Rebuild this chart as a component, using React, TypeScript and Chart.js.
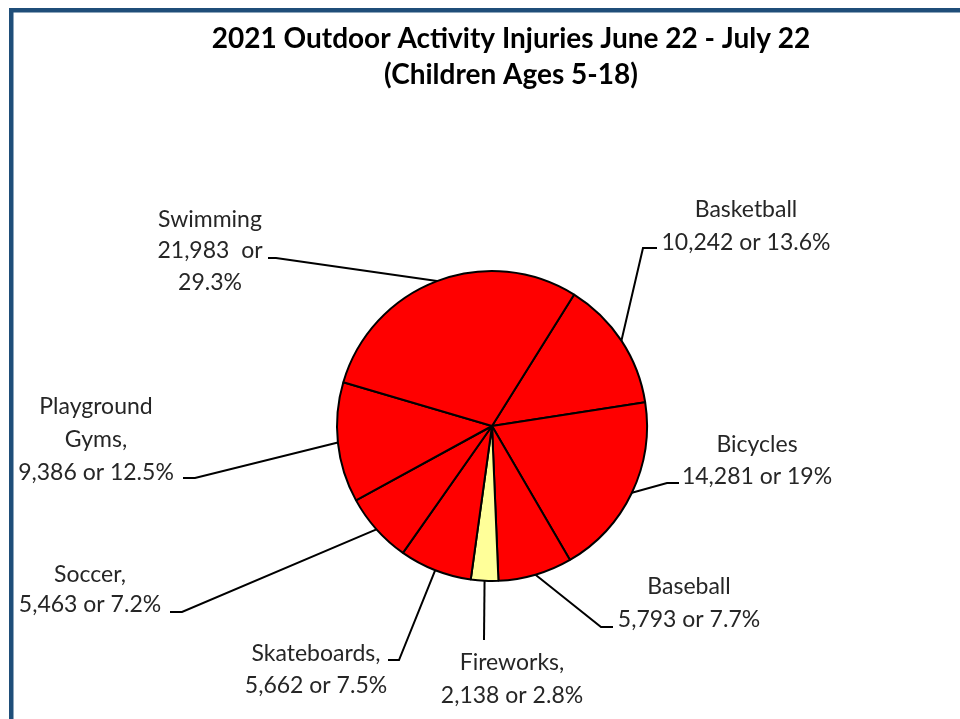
import React, { useEffect, useRef } from "react";
import { Chart, registerables } from "chart.js";

Chart.register(...registerables);

// ---- data ----
const categories = [
  "Basketball",
  "Bicycles",
  "Baseball",
  "Fireworks",
  "Skateboards",
  "Soccer",
  "Playground Gyms",
  "Swimming",
];
const injuries = [10242, 14281, 5793, 2138, 5662, 5463, 9386, 21983];
const countLabels = ["10,242", "14,281", "5,793", "2,138", "5,662", "5,463", "9,386", "21,983"];
const percentLabels = ["13.6%", "19%", "7.7%", "2.8%", "7.5%", "7.2%", "12.5%", "29.3%"];
const sliceColors = ["#FF0000", "#FF0000", "#FF0000", "#FFFF99", "#FF0000", "#FF0000", "#FF0000", "#FF0000"];
const titleLines = ["2021 Outdoor Activity Injuries June 22 - July 22", "(Children Ages 5-18)"];

// label text lines, built from the data
const labelLines: string[][] = [
  [categories[0], `${countLabels[0]} or ${percentLabels[0]}`],
  [categories[1], `${countLabels[1]} or ${percentLabels[1]}`],
  [categories[2], `${countLabels[2]} or ${percentLabels[2]}`],
  [categories[3] + ",", `${countLabels[3]} or ${percentLabels[3]}`],
  [categories[4] + ",", `${countLabels[4]} or ${percentLabels[4]}`],
  [categories[5] + ",", `${countLabels[5]} or ${percentLabels[5]}`],
  ["Playground", "Gyms,", `${countLabels[6]} or ${percentLabels[6]}`],
  [categories[7], `${countLabels[7]}  or`, percentLabels[7]],
];

// ---- layout of annotations (label placement and leader-line elbows) ----
const labelLayout = [
  { cx: 746, base: [217, 250], path: [[643, 248], [657, 248]] },
  { cx: 757, base: [452, 484], path: [[667, 483], [679, 483]] },
  { cx: 689, base: [594, 627], path: [[601, 627], [613, 627]] },
  { cx: 512, base: [670, 703], path: [[484, 640]] },
  { cx: 316, base: [661, 693], path: [[399, 660], [388, 660]] },
  { cx: 90, base: [582, 612], path: [[182, 612], [170, 612]] },
  { cx: 96, base: [414, 447, 480], path: [[195, 478], [183, 478]] },
  { cx: 210, base: [227, 258, 290], path: [[276, 258], [268, 258]] },
];

const FONT = "Lato, 'Noto Sans', sans-serif";
const CX = 492;
const CY = 426;
const R = 155;
const W = 960;
const H = 719;

const decorPlugin = {
  id: "decor",
  beforeDraw(chart: any) {
    const ctx = chart.ctx;
    ctx.save();
    ctx.fillStyle = "#FFFFFF";
    ctx.fillRect(0, 0, W, H);
    ctx.fillStyle = "#1F4E79";
    ctx.fillRect(9, 8, 4.5, H);
    ctx.fillRect(9, 8, W, 4.5);
    ctx.restore();
  },
  afterDraw(chart: any) {
    const ctx = chart.ctx;
    const meta = chart.getDatasetMeta(0);
    ctx.save();
    // title
    ctx.fillStyle = "#000000";
    ctx.textAlign = "center";
    ctx.textBaseline = "alphabetic";
    ctx.font = `bold 28px ${FONT}`;
    ctx.fillText(titleLines[0], 511, 48);
    ctx.fillText(titleLines[1], 511, 84);

    // leader lines
    ctx.strokeStyle = "#000000";
    ctx.lineWidth = 2;
    ctx.lineJoin = "miter";
    meta.data.forEach((arc: any, i: number) => {
      const p = arc.getProps(["x", "y", "startAngle", "endAngle", "outerRadius"], true);
      const mid = (p.startAngle + p.endAngle) / 2;
      const sx = p.x + Math.cos(mid) * p.outerRadius;
      const sy = p.y + Math.sin(mid) * p.outerRadius;
      const lay = labelLayout[i];
      ctx.beginPath();
      ctx.moveTo(sx, sy);
      lay.path.forEach((pt) => ctx.lineTo(pt[0], pt[1]));
      ctx.stroke();
    });

    // label text
    ctx.fillStyle = "#262626";
    ctx.font = `23px ${FONT}`;
    labelLines.forEach((lines, i) => {
      const lay = labelLayout[i];
      lines.forEach((t, j) => ctx.fillText(t, lay.cx, lay.base[j]));
    });
    ctx.restore();
  },
};

export default function App() {
  const ref = useRef<HTMLCanvasElement | null>(null);
  useEffect(() => {
    document.body.style.margin = "0";
    const half = R + 6;
    const chart = new Chart(ref.current as HTMLCanvasElement, {
      type: "pie",
      data: {
        labels: categories,
        datasets: [
          {
            data: injuries,
            backgroundColor: sliceColors,
            borderColor: "#000000",
            borderWidth: 2,
            radius: R,
          } as any,
        ],
      },
      options: {
        responsive: false,
        animation: false,
        rotation: 32,
        layout: {
          padding: { left: CX - half, right: W - (CX + half), top: CY - half, bottom: H - (CY + half) },
        },
        plugins: {
          legend: { display: false },
          tooltip: { enabled: false },
          title: { display: false },
        },
      },
      plugins: [decorPlugin],
    });
    return () => chart.destroy();
  }, []);
  return (
    <div style={{ position: "absolute", left: 0, top: 0, width: W, height: H, background: "#fff" }}>
      <canvas ref={ref} width={W} height={H} style={{ width: W, height: H, display: "block" }} />
    </div>
  );
}
